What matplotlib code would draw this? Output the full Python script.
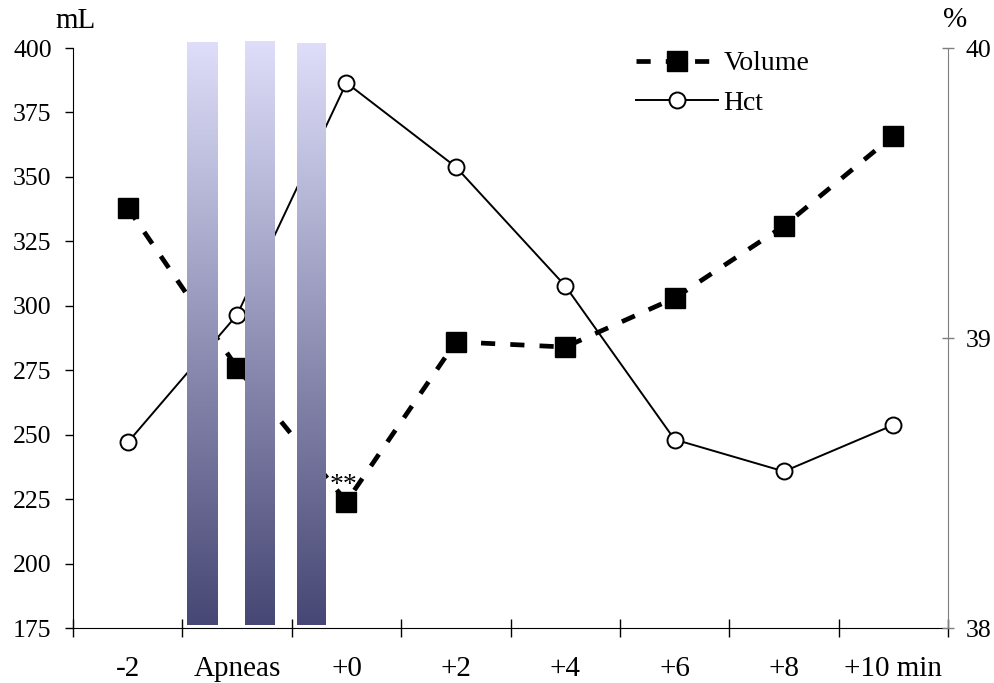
import matplotlib
matplotlib.use('Agg')
import matplotlib.pyplot as plt
import numpy as np
from matplotlib.colors import LinearSegmentedColormap

plt.rcParams.update({
    'font.family': 'Liberation Serif',
    'font.size': 21,
})

# data
categories = ['-2', 'Apneas', '+0', '+2', '+4', '+6', '+8', '+10 min']
volume = [338, 276, 224, 286, 284, 303, 331, 366]          # mL, left axis
hct = [38.64, 39.08, 39.88, 39.59, 39.18, 38.65, 38.54, 38.70]  # %, right axis

# apnea bars (x range in category units, y range in mL)
apnea_x = [(0.54, 0.816), (1.072, 1.346), (1.547, 1.803)]
apnea_y = [(176.2, 402.3), (176.2, 402.7), (176.2, 401.9)]

x = np.arange(len(categories))

fig = plt.figure(figsize=(9.95, 6.83), dpi=100)
ax = fig.add_axes([0.0734, 0.0805, 0.8794, 0.8492])
ax2 = ax.twinx()

# Volume on left axis
ax.plot(x, volume, color='black', linewidth=3.4, dashes=(3.0, 3.2),
        marker='s', markersize=14.5, markerfacecolor='black',
        markeredgecolor='black', label='Volume', zorder=3)
ax.text(1.97, 225.5, '**', ha='center', va='bottom', fontsize=20, zorder=4)

# Hct on right axis
ax2.plot(x, hct, color='black', linewidth=1.4, marker='o', markersize=11.5,
         markerfacecolor='white', markeredgecolor='black',
         markeredgewidth=1.4, label='Hct', zorder=2)

# gradient bars drawn above the lines
cmap = LinearSegmentedColormap.from_list('apnea', ['#DEDEFA', '#474775'])
grad = np.linspace(0, 1, 256).reshape(-1, 1)
for (x0, x1), (y0, y1) in zip(apnea_x, apnea_y):
    ax2.imshow(grad, cmap=cmap, aspect='auto', origin='upper',
               extent=(x0, x1, y0, y1), transform=ax.transData,
               clip_on=False, zorder=5, interpolation='bilinear')

ax.set_xlim(-0.5, len(categories) - 0.5)
ax.set_ylim(175, 400)
ax2.set_ylim(38, 40)
ax2.set_xlim(-0.5, len(categories) - 0.5)

ax.set_yticks(np.arange(175, 401, 25))
ax2.set_yticks([38, 39, 40])

# x ticks between categories, labels at category centers
ax.set_xticks(np.arange(-0.5, len(categories), 1.0))
ax.set_xticklabels([])
ax.set_xticks(x, minor=True)
ax.set_xticklabels(categories, minor=True)
ax.tick_params(axis='x', which='major', direction='inout', length=13,
               width=1.0)
ax.tick_params(axis='x', which='minor', length=0, pad=20)
ax.tick_params(axis='y', direction='out', length=6, width=1.0, pad=9.4,
               labelsize=18.5)
ax2.tick_params(axis='y', direction='inout', length=8, width=1.0,
                color='#7f7f7f', pad=8.6, labelsize=18.5)

ax.spines['top'].set_visible(False)
ax2.spines['top'].set_visible(False)
ax.spines['right'].set_visible(False)
ax2.spines['left'].set_visible(False)
ax2.spines['bottom'].set_visible(False)
ax2.spines['right'].set_color('#7f7f7f')

fig.text(55 / 995, 1 - 28 / 683, 'mL', ha='left', va='baseline', fontsize=21)
fig.text(955 / 995, 1 - 27 / 683, '%', ha='center', va='baseline', fontsize=21)

h1, l1 = ax.get_legend_handles_labels()
h2, l2 = ax2.get_legend_handles_labels()
ax2.legend(h1 + h2, l1 + l2, loc='upper left',
           bbox_to_anchor=(636 / 995, 1 - 51 / 683),
           bbox_transform=fig.transFigure, frameon=False, fontsize=20,
           handlelength=2.95, handletextpad=0.2, labelspacing=0.5,
           borderpad=0, borderaxespad=0)

fig.savefig('out.png', dpi=100)
